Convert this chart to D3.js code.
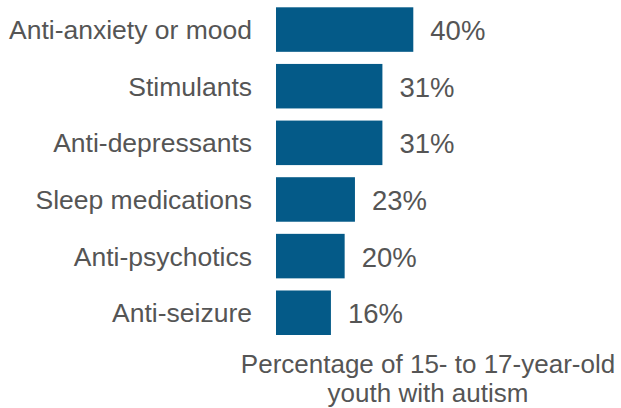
<!DOCTYPE html>
<html><head><meta charset="utf-8">
<script src="https://cdn.jsdelivr.net/npm/d3@7"></script>
<style>body{margin:0;background:#fff}svg{display:block}</style>
</head><body>
<script>
const categories = ["Anti-anxiety or mood","Stimulants","Anti-depressants","Sleep medications","Anti-psychotics","Anti-seizure"];
const values = [40,31,31,23,20,16];
const axisTitle = ["Percentage of 15- to 17-year-old","youth with autism"];

const W=621,H=408;
const svg=d3.select("body").append("svg").attr("width",W).attr("height",H);
const font="'Liberation Sans', Arial, Helvetica, sans-serif";
const textColor="#555555";
const barColor="#045a88";

const x=d3.scaleLinear().domain([0,40]).range([276,413.3]);
const y=d3.scaleBand().domain(categories).range([7.3,335]).paddingInner(0.214).paddingOuter(0);

const data=categories.map((c,i)=>({c,v:values[i]}));

svg.selectAll("rect.bar").data(data).join("rect").attr("class","bar")
  .attr("x",x(0)).attr("y",d=>y(d.c)).attr("width",d=>x(d.v)-x(0)).attr("height",y.bandwidth())
  .attr("fill",barColor);

svg.selectAll("text.cat").data(data).join("text").attr("class","cat")
  .attr("x",252).attr("y",d=>y(d.c)+y.bandwidth()/2+9.6)
  .attr("text-anchor","end").attr("font-family",font).attr("font-size",26.5).attr("fill",textColor)
  .text(d=>d.c);

svg.selectAll("text.val").data(data).join("text").attr("class","val")
  .attr("x",d=>x(d.v)+17).attr("y",d=>y(d.c)+y.bandwidth()/2+10.5)
  .attr("font-family",font).attr("font-size",27.5).attr("fill",textColor)
  .text(d=>d.v+"%");

svg.selectAll("text.title").data(axisTitle).join("text").attr("class","title")
  .attr("x",428).attr("y",(d,i)=>373.2+i*29.2)
  .attr("text-anchor","middle").attr("font-family",font).attr("font-size",26).attr("fill",textColor)
  .text(d=>d);
</script>
</body></html>
